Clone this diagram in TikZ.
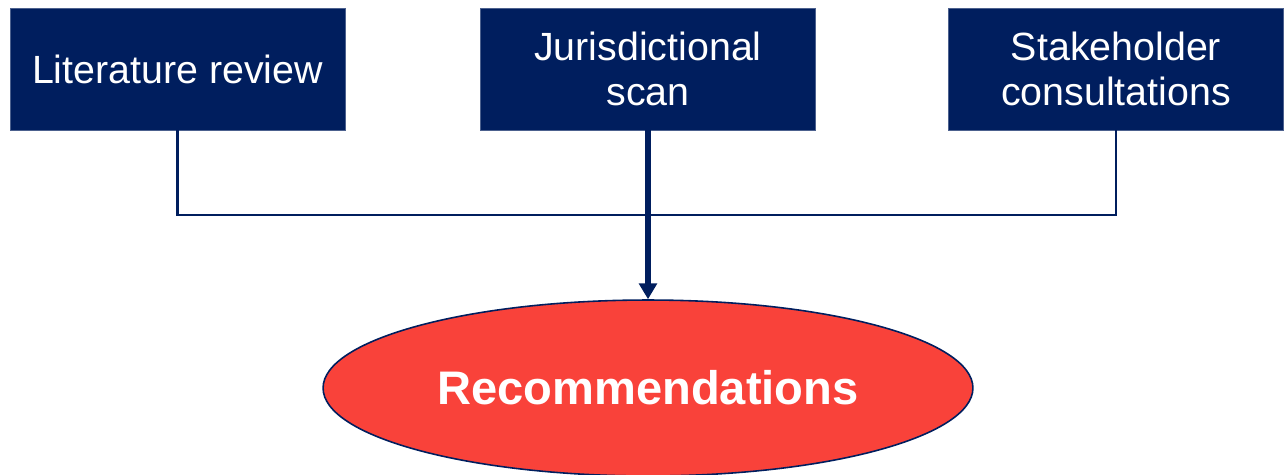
\documentclass[tikz,border=0pt]{standalone}
\usepackage{fontspec}
\setmainfont{Liberation Sans}
\usetikzlibrary{shapes.geometric,arrows.meta}
\definecolor{navy}{RGB}{0,30,94}
\definecolor{recred}{RGB}{249,66,58}
\tikzset{
  srcbox/.style={draw=navy!70, fill=navy, text=white, minimum width=6.7cm, minimum height=2.44cm,
    inner sep=0pt, align=center, font=\fontsize{22.4}{25.5}\selectfont},
  recoval/.style={ellipse, draw=navy, line width=0.9pt, fill=recred, text=white, minimum width=13cm,
    minimum height=3.52cm, inner sep=0pt, font=\bfseries\fontsize{26.8}{30}\selectfont},
  feed/.style={draw=navy, line width=1.4pt},
  mainarrow/.style={draw=navy, line width=3.3pt, -{Triangle[length=9pt,width=10pt]}}
}
\begin{document}
\begin{tikzpicture}[x=0.02cm, y=-0.02cm]
            \useasboundingbox (0,0) rectangle (1285,474);
            \node[srcbox] (lit) at (177.5,69) {Literature review};
            \node[srcbox] (juris) at (648,69) {Jurisdictional\\scan};
            \node[srcbox] (stake) at (1116,69) {Stakeholder\\consultations};
            \node[recoval] (rec) at (648,388) {Recommendations};
            \coordinate (bus) at (648,215);
            \draw[feed] (lit.south) |- (bus) -| (stake.south);
            \draw[mainarrow] (juris.south) -- (rec.north);
        \end{tikzpicture}
\end{document}
